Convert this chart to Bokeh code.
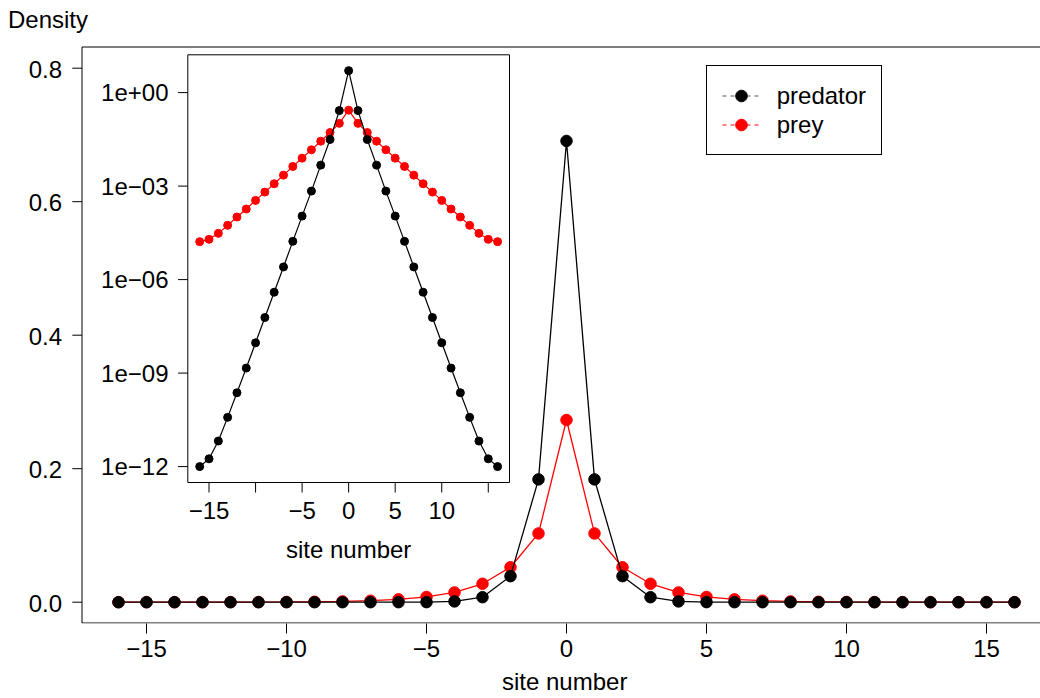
from bokeh.plotting import figure
from bokeh.models import (Range1d, FixedTicker, Legend, LegendItem, Title,
                          LogScale, ColumnDataSource)
from bokeh.core.properties import value
from bokeh.embed import file_html
from bokeh.resources import INLINE

# ---------------- data ----------------
sites = [-16, -15, -14, -13, -12, -11, -10, -9, -8, -7, -6, -5, -4, -3, -2, -1, 0,
         1, 2, 3, 4, 5, 6, 7, 8, 9, 10, 11, 12, 13, 14, 15, 16]

predator_main = [0.0, 0.0, 0.0, 0.0, 0.0, 0.0, 0.0, 0.0, 0.0, 0.000003, 0.00002, 0.00011,
                 0.0012, 0.0075, 0.039, 0.184, 0.691,
                 0.184, 0.039, 0.0075, 0.0012, 0.00011, 0.00002, 0.000003, 0.0, 0.0,
                 0.0, 0.0, 0.0, 0.0, 0.0, 0.0, 0.0]

prey = [1.65e-5, 1.96e-5, 3.05e-5, 5.51e-5, 1.02e-4, 1.84e-4, 3.48e-4, 6.43e-4, 1.19e-3,
        2.25e-3, 4.27e-3, 7.89e-3, 1.46e-2, 2.76e-2, 5.24e-2, 1.03e-1, 2.73e-1,
        1.03e-1, 5.24e-2, 2.76e-2, 1.46e-2, 7.89e-3, 4.27e-3, 2.25e-3, 1.19e-3,
        6.43e-4, 3.48e-4, 1.84e-4, 1.02e-4, 5.51e-5, 3.05e-5, 1.96e-5, 1.65e-5]

predator_inset = [1.0e-12, 1.78e-12, 6.61e-12, 3.80e-11, 2.34e-10, 1.45e-9, 9.37e-9, 6.07e-8,
                  3.94e-7, 2.55e-6, 1.69e-5, 1.09e-4, 6.92e-4, 4.71e-3, 3.13e-2, 2.65e-1, 5.07,
                  2.65e-1, 3.13e-2, 4.71e-3, 6.92e-4, 1.09e-4, 1.69e-5, 2.55e-6, 3.94e-7,
                  6.07e-8, 9.37e-9, 1.45e-9, 2.34e-10, 3.80e-11, 6.61e-12, 1.78e-12, 1.0e-12]

series_names = ["predator", "prey"]
main_xticks = [-15, -10, -5, 0, 5, 10, 15]
main_xtick_labels = ["\u221215", "\u221210", "\u22125", "0", "5", "10", "15"]
main_yticks = [0.0, 0.2, 0.4, 0.6, 0.8]
main_ytick_labels = ["0.0", "0.2", "0.4", "0.6", "0.8"]
inset_xticks = [-15, -10, -5, 0, 5, 10, 15]
inset_xtick_labels = ["\u221215", "", "\u22125", "0", "5", "10", ""]
inset_yticks = [1e0, 1e-3, 1e-6, 1e-9, 1e-12]
inset_ytick_labels = ["1e+00", "1e\u221203", "1e\u221206", "1e\u221209", "1e\u221212"]
x_title = "site number"
y_title = "Density"

# ---------------- layout (page pixels) ----------------
W, H = 1040, 698
FB = 623                                     # bottom of drawing frame (x axis here)
BL, BT, BR, BB = 81.5, 46.5, 1040.0, 622.5   # main box lines
X0PX, XPPU = 566.0, 28.0                     # page x of site 0, px per site
Y0PX, YPPU = 601.7, 667.5                    # page y of density 0, px per unit
IL, IT, IR, IB = 187.3, 54.3, 509.0, 482.0   # inset box
IX_LO, IX_HI = -17.28, 17.28
IY_LO, IY_HI = -12.51, 1.213                 # log10 limits of inset

FONT = "Liberation Sans"
FS = "24px"


def mx(px):
    return (px - X0PX) / XPPU


def my(py):
    return (Y0PX - py) / YPPU


x_range = Range1d(mx(0), mx(W))
y_range = Range1d(my(FB), my(0))

ippu = (IR - IL) / (IX_HI - IX_LO)
ilpp = (IY_HI - IY_LO) / (IB - IT)
ix_range = Range1d(IX_LO - IL / ippu, IX_HI + (W - IR) / ippu)
iy_range = Range1d(10 ** (IY_LO - (FB - IB) * ilpp), 10 ** (IY_HI + IT * ilpp))


def ix_px(px):
    return IX_LO + (px - IL) / ippu


def iy_px(py):
    return 10 ** (IY_HI - (py - IT) * ilpp)


p = figure(width=W, height=H, x_range=x_range, y_range=y_range,
           output_backend="svg", toolbar_location=None, title=None,
           min_border_left=0, min_border_right=0,
           min_border_top=0, min_border_bottom=H - FB)
p.extra_x_ranges = {"ix": ix_range}
p.extra_y_ranges = {"iy": iy_range}
p.extra_y_scales = {"iy": LogScale()}
p.xgrid.visible = False
p.ygrid.visible = False
p.yaxis.visible = False
p.outline_line_color = None
p.background_fill_color = "white"
p.border_fill_color = "white"

# ---------------- bottom axis ----------------
xa = p.xaxis[0]
xa.ticker = FixedTicker(ticks=main_xticks)
xa.major_label_overrides = dict(zip(main_xticks, main_xtick_labels))
xa.major_tick_in = 0
xa.major_tick_out = 10
xa.minor_tick_line_color = None
xa.axis_line_color = None
xa.major_tick_line_color = "black"
xa.major_label_text_font = FONT
xa.major_label_text_font_size = FS
xa.major_label_text_color = "black"
xa.major_label_standoff = 6
xa.axis_label = " "
xa.axis_label_text_font_size = "1px"
xa.axis_label_standoff = 2

p.add_layout(Title(text=x_title, align="left", offset=501.5, text_font=FONT,
                   text_font_size=FS, text_font_style="normal", text_color="black",
                   standoff=0), "below")

# ---------------- main box and y axis ----------------
p.segment(x0=[mx(BL), mx(BL), mx(BL)], x1=[mx(BR), mx(BL), mx(BR)],
          y0=[my(BT), my(BT), my(BB)], y1=[my(BT), my(BB), my(BB)],
          line_color="black", line_width=1)
p.segment(x0=[mx(BL)] * len(main_yticks), x1=[mx(BL - 9.7)] * len(main_yticks),
          y0=main_yticks, y1=main_yticks, line_color="black", line_width=1)
p.text(x=[mx(61.5)] * len(main_yticks), y=main_yticks, text=main_ytick_labels,
       text_font=value(FONT), text_font_size=FS, text_align="right",
       text_baseline="middle", y_offset=1, text_color="black")
p.text(x=[mx(7.5)], y=[my(19.3)], text=[y_title],
       text_font=value(FONT), text_font_size=FS, text_align="left",
       text_baseline="middle", text_color="black")

# ---------------- main series ----------------
src = ColumnDataSource(dict(x=sites, pred=predator_main, prey=prey, ipred=predator_inset))
p.line("x", "prey", source=src, line_color="red", line_width=1.3)
p.scatter("x", "prey", source=src, size=11.5, fill_color="red", line_color="red")
p.line("x", "pred", source=src, line_color="black", line_width=1.3)
p.scatter("x", "pred", source=src, size=11.5, fill_color="black", line_color="black")

# ---------------- inset ----------------
p.quad(left=[IX_LO], right=[IX_HI], bottom=[10 ** IY_LO], top=[10 ** IY_HI],
       fill_color="white", line_color="black", line_width=1,
       x_range_name="ix", y_range_name="iy")
p.line("x", "prey", source=src, line_color="red", line_width=1.2,
       x_range_name="ix", y_range_name="iy")
p.scatter("x", "prey", source=src, size=8, fill_color="red", line_color="red",
          x_range_name="ix", y_range_name="iy")
p.line("x", "ipred", source=src, line_color="black", line_width=1.2,
       x_range_name="ix", y_range_name="iy")
p.scatter("x", "ipred", source=src, size=8, fill_color="black", line_color="black",
          x_range_name="ix", y_range_name="iy")

p.segment(x0=[IX_LO] * len(inset_yticks), x1=[ix_px(IL - 9.7)] * len(inset_yticks),
          y0=inset_yticks, y1=inset_yticks, line_color="black", line_width=1,
          x_range_name="ix", y_range_name="iy")
p.segment(x0=inset_xticks, x1=inset_xticks,
          y0=[10 ** IY_LO] * len(inset_xticks), y1=[iy_px(IB + 10)] * len(inset_xticks),
          line_color="black", line_width=1, x_range_name="ix", y_range_name="iy")
p.text(x=[ix_px(168)] * len(inset_yticks), y=inset_yticks, text=inset_ytick_labels,
       text_font=value(FONT), text_font_size=FS, text_align="right",
       text_baseline="middle", text_color="black",
       x_range_name="ix", y_range_name="iy")
p.text(x=inset_xticks, y=[iy_px(510)] * len(inset_xticks), text=inset_xtick_labels,
       text_font=value(FONT), text_font_size=FS, text_align="center",
       text_baseline="middle", text_color="black",
       x_range_name="ix", y_range_name="iy")
p.text(x=[0], y=[iy_px(549)], text=[x_title],
       text_font=value(FONT), text_font_size=FS, text_align="center",
       text_baseline="middle", text_color="black",
       x_range_name="ix", y_range_name="iy")

# ---------------- legend ----------------
nan = float("nan")
l1 = p.line(x=[nan], y=[nan], line_color="#555555", line_dash="4 4", line_width=1)
d1 = p.scatter(x=[nan], y=[nan], fill_color="black", line_color="black")
l2 = p.line(x=[nan], y=[nan], line_color="red", line_dash="4 4", line_width=1)
d2 = p.scatter(x=[nan], y=[nan], fill_color="red", line_color="red")
legend = Legend(items=[LegendItem(label=series_names[0], renderers=[l1, d1]),
                       LegendItem(label=series_names[1], renderers=[l2, d2])],
                location=(705.7, FB - 155.0),
                border_line_color="black", border_line_width=1, border_line_alpha=1,
                background_fill_color="white", background_fill_alpha=1,
                label_text_font=FONT, label_text_font_size=FS, label_text_color="black",
                padding=15, spacing=0, margin=0,
                glyph_width=38, glyph_height=29, label_height=29, label_standoff=17)
p.add_layout(legend)

open("out.html", "w").write(file_html(p, INLINE))
